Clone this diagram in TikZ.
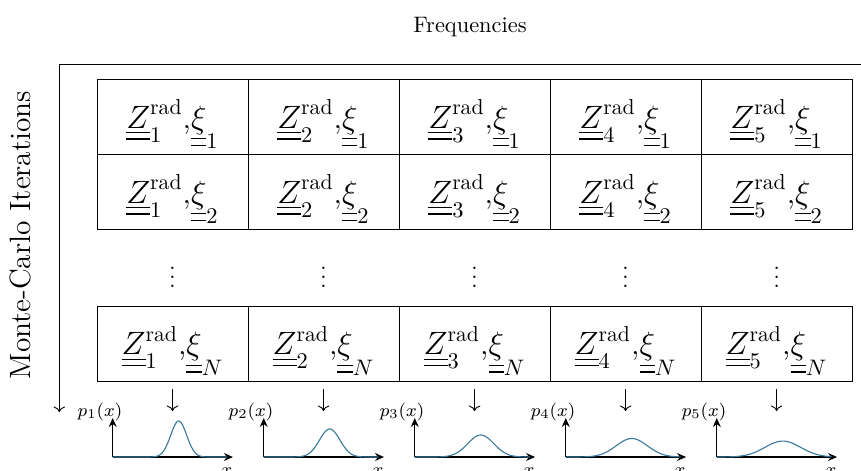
\documentclass[tikz,border=0pt]{standalone}
\usepackage{amsmath}
\usepackage{tikz}
\usetikzlibrary{arrows.meta, calc}
\definecolor{curveblue}{RGB}{58, 122, 158}
\tikzset{
  cellbox/.style      = {rectangle, draw, minimum width=2.368cm, minimum height=1.176cm, inner sep=0pt,
                         text height=12.4pt, text depth=2.4pt, font=\fontsize{13.8}{16}\selectfont},
  plotaxis/.style     = {-{Stealth[length=4pt, width=3.5pt]}, semithick, black},
  densitycurve/.style = {curveblue, line width=0.5pt},
  axislabel/.style    = {font=\footnotesize, inner sep=0pt},
}

\begin{document}
\begin{tikzpicture}
  \useasboundingbox (0,0) rectangle (13.5,7.37);

  % titles and iteration axis
  \node (freq) at (7.37,6.946) {Frequencies};
  \node[rotate=90, font=\fontsize{13.1}{16}\selectfont] (mciter) at (0.314,3.685) {Monte-Carlo Iterations};
  \coordinate (corner) at (0.93,6.366);
  \coordinate (rightend) at (13.5,6.366);
  \coordinate (downend) at (0.93,0.909);
  \draw (rightend) -- (corner);
  \draw[->] (corner) -- (downend);

  % table of samples, one column per frequency
  \foreach \i in {1,...,5} {
    \pgfmathsetmacro{\cx}{1.521+(\i-0.5)*2.368}
    \node[cellbox] (ca-\i) at (\cx,5.538) {$\underline{\underline{Z}}^{\text{rad}}_{\i}$,$\underline{\underline{\xi}}_1$};
    \node[cellbox] (cb-\i) at (\cx,4.362) {$\underline{\underline{Z}}^{\text{rad}}_{\i}$,$\underline{\underline{\xi}}_2$};
    \node (dots-\i) at (\cx,3.12) {$\vdots$};
    \node[cellbox] (cn-\i) at (\cx,1.984) {$\underline{\underline{Z}}^{\text{rad}}_{\i}$,$\underline{\underline{\xi}}_N$};
    \coordinate (tip-\i) at (\cx,0.925);
    \draw[->, shorten <=0.125cm] (cn-\i.south) -- (tip-\i);
  }

  % estimated densities
  \foreach \i/\h/\s in {1/0.565/0.125, 2/0.44/0.16, 3/0.345/0.205, 4/0.29/0.245, 5/0.25/0.28} {
    \pgfmathsetmacro{\ox}{1.521+(\i-1)*2.368+0.246}
    \coordinate (o-\i) at (\ox,0.204);
    \coordinate (ytop-\i) at ($(o-\i)+(0,0.612)$);
    \coordinate (xend-\i) at ($(o-\i)+(1.886,0)$);
    \draw[plotaxis] (o-\i) -- (ytop-\i);
    \draw[plotaxis] (o-\i) -- (xend-\i);
    \draw[densitycurve, domain=0:1.8, samples=90, shift={(o-\i)}]
      plot (\x, {\h*exp(-((\x-1.035)^2)/(2*\s*\s))});
    \node[axislabel] (py-\i) at ($(o-\i)+(-0.2,0.706)$) {$p_{\i}(x)$};
    \node[axislabel] (px-\i) at ($(o-\i)+(1.79,-0.235)$) {$x$};
  }
\end{tikzpicture}
\end{document}
